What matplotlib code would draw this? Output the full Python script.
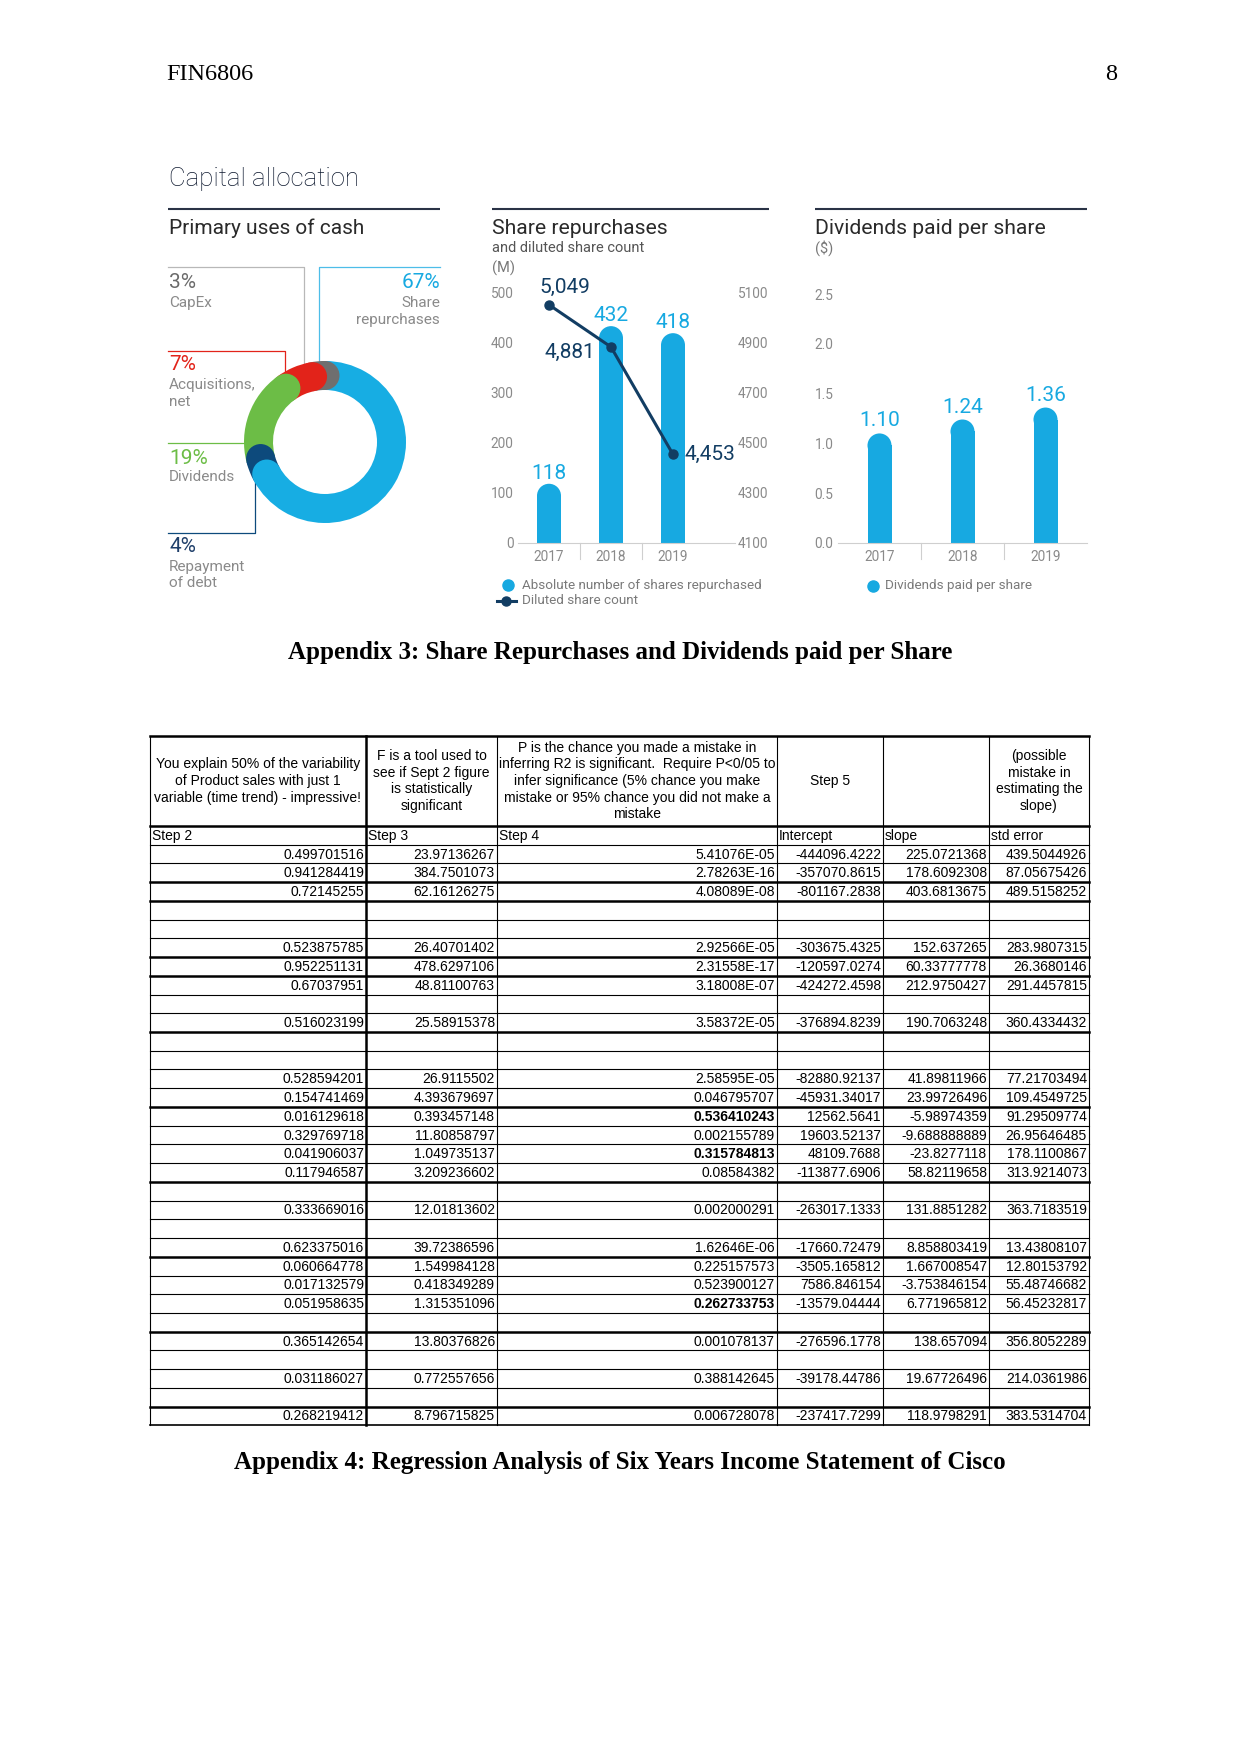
import numpy as np
import matplotlib
matplotlib.use('Agg')
import matplotlib.pyplot as plt
from matplotlib.patches import Ellipse, Circle

# ------------------------------------------------------------------ data
donut_labels = ['Share repurchases', 'Repayment of debt', 'Dividends', 'Acquisitions, net', 'CapEx']
donut_pct = [67, 4, 19, 7, 3]

years = ['2017', '2018', '2019']
shares_repurchased = [118, 432, 418]
diluted_share_count = [5049, 4881, 4453]
dividends_per_share = [1.10, 1.24, 1.36]

share_left_ticks = [0, 100, 200, 300, 400, 500]
share_right_ticks = [4100, 4300, 4500, 4700, 4900, 5100]
div_ticks = [0.0, 0.5, 1.0, 1.5, 2.0, 2.5]

table_headers = [
    "You explain 50% of the variability\nof Product sales with just 1\nvariable (time trend) - impressive!",
    "F is a tool used to\nsee if Sept 2 figure\nis statistically\nsignificant",
    "P is the chance you made a mistake in\ninferring R2 is significant.  Require P<0/05 to\ninfer significance (5% chance you make\nmistake or 95% chance you did not make a\nmistake",
    "Step 5",
    "",
    "(possible\nmistake in\nestimating the\nslope)",
]
step_labels = ['Step 2', 'Step 3', 'Step 4', 'Intercept', 'slope', 'std error']

r2_values = ['0.499701516', '0.941284419', '0.72145255', '', '', '0.523875785', '0.952251131',
             '0.67037951', '', '0.516023199', '', '', '0.528594201', '0.154741469', '0.016129618',
             '0.329769718', '0.041906037', '0.117946587', '', '0.333669016', '', '0.623375016',
             '0.060664778', '0.017132579', '0.051958635', '', '0.365142654', '', '0.031186027', '',
             '0.268219412']
f_values = ['23.97136267', '384.7501073', '62.16126275', '', '', '26.40701402', '478.6297106',
            '48.81100763', '', '25.58915378', '', '', '26.9115502', '4.393679697', '0.393457148',
            '11.80858797', '1.049735137', '3.209236602', '', '12.01813602', '', '39.72386596',
            '1.549984128', '0.418349289', '1.315351096', '', '13.80376826', '', '0.772557656', '',
            '8.796715825']
p_values = ['5.41076E-05', '2.78263E-16', '4.08089E-08', '', '', '2.92566E-05', '2.31558E-17',
            '3.18008E-07', '', '3.58372E-05', '', '', '2.58595E-05', '0.046795707', '0.536410243',
            '0.002155789', '0.315784813', '0.08584382', '', '0.002000291', '', '1.62646E-06',
            '0.225157573', '0.523900127', '0.262733753', '', '0.001078137', '', '0.388142645', '',
            '0.006728078']
intercepts = ['-444096.4222', '-357070.8615', '-801167.2838', '', '', '-303675.4325', '-120597.0274',
              '-424272.4598', '', '-376894.8239', '', '', '-82880.92137', '-45931.34017', '12562.5641',
              '19603.52137', '48109.7688', '-113877.6906', '', '-263017.1333', '', '-17660.72479',
              '-3505.165812', '7586.846154', '-13579.04444', '', '-276596.1778', '', '-39178.44786', '',
              '-237417.7299']
slopes = ['225.0721368', '178.6092308', '403.6813675', '', '', '152.637265', '60.33777778',
          '212.9750427', '', '190.7063248', '', '', '41.89811966', '23.99726496', '-5.98974359',
          '-9.688888889', '-23.8277118', '58.82119658', '', '131.8851282', '', '8.858803419',
          '1.667008547', '-3.753846154', '6.771965812', '', '138.657094', '', '19.67726496', '',
          '118.9798291']
std_errors = ['439.5044926', '87.05675426', '489.5158252', '', '', '283.9807315', '26.3680146',
              '291.4457815', '', '360.4334432', '', '', '77.21703494', '109.4549725', '91.29509774',
              '26.95646485', '178.1100867', '313.9214073', '', '363.7183519', '', '13.43808107',
              '12.80153792', '55.48746682', '56.45232817', '', '356.8052289', '', '214.0361986', '',
              '383.5314704']
p_bold = ['0.536410243', '0.315784813', '0.262733753']

# ------------------------------------------------------------------ style
W, H = 1241, 1754
UI = ['Roboto', 'DejaVu Sans']
SANS = ['Liberation Sans', 'DejaVu Sans']
SERIF = ['Liberation Serif', 'DejaVu Serif']
BLUE = '#17a9e1'
NAVY = '#123d63'
DONUT_COLORS = ['#17ade3', '#0d4a7c', '#6cbd46', '#e2231a', '#6f6f6f']
GREY_TXT = '#8a8a8a'
plt.rcParams['font.family'] = UI

fig = plt.figure(figsize=(W / 100, H / 100), dpi=100)


def px_axes(x0, y0, x1, y1):
    return fig.add_axes([x0 / W, 1 - y1 / H, (x1 - x0) / W, (y1 - y0) / H])


page = px_axes(0, 0, W, H)
page.set_xlim(0, W)
page.set_ylim(H, 0)
page.axis('off')


def T(x, y, s, size, color='black', ha='left', va='center', family=UI, weight='normal', **kw):
    page.text(x, y, s, fontsize=size, color=color, ha=ha, va=va, family=family,
              fontweight=weight, **kw)


# page header
T(166, 75, 'FIN6806', 17.5, family=SERIF)
T(1117, 75, '8', 17.5, ha='right', family=SERIF)

# section titles + rules
T(169, 179, 'Capital allocation', 18.5, color='#0f1a30', weight='light')
for x0, x1 in [(168, 440), (492, 769), (815, 1087)]:
    page.plot([x0, x1], [209, 209], color='#2a3346', lw=1.5, solid_capstyle='butt')
T(169, 228, 'Primary uses of cash', 15, color='#2a2a2a')
T(492, 228, 'Share repurchases', 15.2, color='#2a2a2a')
T(492, 248, 'and diluted share count', 10.5, color='#555555')
T(492, 268, '(M)', 10.5, color='#777777')
T(815, 228, 'Dividends paid per share', 15.2, color='#2a2a2a')
T(815, 248, '($)', 10.5, color='#777777')

# ------------------------------------------------------------------ donut
page.plot([168, 304, 304], [267, 267, 365], color='#b8b8b8', lw=0.9)
page.plot([319, 319, 440], [365, 267, 267], color='#4dbde8', lw=0.9)
page.plot([168, 285, 285], [351, 351, 376], color=DONUT_COLORS[3], lw=0.9)
page.plot([168, 250], [443, 443], color=DONUT_COLORS[2], lw=0.9)
page.plot([168, 255, 255], [533, 533, 480], color=DONUT_COLORS[1], lw=0.9)

T(169, 283, f'{donut_pct[4]}%', 15, color='#6b6b6b')
T(169, 303, 'CapEx', 11, color=GREY_TXT)
T(440, 283, f'{donut_pct[0]}%', 15, color=BLUE, ha='right')
T(440, 303, 'Share', 11, color=GREY_TXT, ha='right')
T(440, 320, 'repurchases', 11, color=GREY_TXT, ha='right')
T(169, 365, f'{donut_pct[3]}%', 15, color=DONUT_COLORS[3])
T(169, 385, 'Acquisitions,', 11, color=GREY_TXT)
T(169, 402, 'net', 11, color=GREY_TXT)
T(169, 458, f'{donut_pct[2]}%', 15, color='#6cbd46')
T(169, 477, 'Dividends', 11, color=GREY_TXT)
T(169, 547, f'{donut_pct[1]}%', 15, color='#1f3f6a')
T(169, 567, 'Repayment', 11, color=GREY_TXT)
T(169, 583, 'of debt', 11, color=GREY_TXT)

cx, cy, ro, ri = 325, 442, 81, 52
dax = px_axes(cx - 100, cy - 100, cx + 100, cy + 100)
ring = (ro - ri) / ro
wedges, _ = dax.pie(donut_pct, colors=DONUT_COLORS, startangle=90, counterclock=False,
                    radius=1.0, wedgeprops=dict(width=ring, linewidth=0))
lim = 100 / ro
dax.set_xlim(-lim, lim)
dax.set_ylim(-lim, lim)
dax.set_aspect('equal')
rm = 1 - ring / 2
for z, (wdg, col) in enumerate(reversed(list(zip(wedges, DONUT_COLORS)))):
    a = np.deg2rad(wdg.theta1)
    dax.add_patch(Circle((rm * np.cos(a), rm * np.sin(a)), ring / 2, facecolor=col,
                         edgecolor='none', zorder=3 + z))

# ------------------------------------------------------------------ share repurchases chart
xpos = np.arange(len(years))
sax = px_axes(518, 292, 735, 543)
sax.set_facecolor('none')
sax.set_xlim(-0.5, 3.0)
sax.set_ylim(0, 500)
cap = 12 * 500 / 251
bw = 24 / 62
sax.bar(xpos, [v - cap for v in shares_repurchased], width=bw, color=BLUE, linewidth=0, zorder=2)
for xi, v in zip(xpos, shares_repurchased):
    sax.add_patch(Ellipse((xi, v - cap), bw, 2 * cap, facecolor=BLUE, edgecolor='none', zorder=2))
    sax.annotate(f'{v}', (xi, v), xytext=(0, 3.5), textcoords='offset points', ha='center',
                 va='baseline', fontsize=15, color=BLUE)
for s in ['left', 'right', 'top']:
    sax.spines[s].set_visible(False)
sax.spines['bottom'].set_color('#cfcfcf')
sax.spines['bottom'].set_linewidth(0.8)
sax.set_yticks(share_left_ticks)
sax.set_xticks(xpos)
sax.set_xticklabels(years)
sax.tick_params(axis='y', length=0, pad=3.3, labelsize=9.8, labelcolor=GREY_TXT)
sax.tick_params(axis='x', length=0, pad=5, labelsize=9.8, labelcolor=GREY_TXT)
for b in [0.5, 1.5]:
    sax.axvline(b, ymin=-16 / 251, ymax=0, color='#cfcfcf', lw=0.8, clip_on=False)

tax = sax.twinx()
tax.set_ylim(4100, 5100)
tax.set_yticks(share_right_ticks)
tax.tick_params(axis='y', length=0, pad=2.2, labelsize=9.8, labelcolor=GREY_TXT)
for s in tax.spines.values():
    s.set_visible(False)
tax.plot(xpos, diluted_share_count, color=NAVY, lw=2.2, marker='o', ms=6.5, zorder=3)
line_label_style = [((11.5, 12.2), 'center'), ((-11.5, -3.6), 'right'), ((8.6, 0), 'left')]
for xi, v, (off, ha) in zip(xpos, diluted_share_count, line_label_style):
    tax.annotate(f'{v:,}', (xi, v), xytext=off, textcoords='offset points', ha=ha, va='center',
                 fontsize=15, color=NAVY)

page.plot([508], [585], 'o', ms=8, color=BLUE)
page.plot([497, 516], [601, 601], color=NAVY, lw=2.2)
page.plot([506], [601], 'o', ms=6.5, color=NAVY)
T(522, 585, 'Absolute number of shares repurchased', 9.7, color='#7a7a7a')
T(522, 601, 'Diluted share count', 9.7, color='#7a7a7a')

# ------------------------------------------------------------------ dividends chart
vax = px_axes(838, 294, 1087, 543)
vax.set_facecolor('none')
vax.set_xlim(-0.5, 2.5)
vax.set_ylim(0, 2.5)
cap = 12 * 2.5 / 249
bw = 24 / 83
vax.bar(xpos, [v - cap for v in dividends_per_share], width=bw, color=BLUE, linewidth=0, zorder=2)
for xi, v in zip(xpos, dividends_per_share):
    vax.add_patch(Ellipse((xi, v - cap), bw, 2 * cap, facecolor=BLUE, edgecolor='none', zorder=2))
    vax.annotate(f'{v:.2f}', (xi, v), xytext=(0, 5), textcoords='offset points', ha='center',
                 va='baseline', fontsize=15, color=BLUE)
for s in ['left', 'right', 'top']:
    vax.spines[s].set_visible(False)
vax.spines['bottom'].set_color('#cfcfcf')
vax.spines['bottom'].set_linewidth(0.8)
vax.set_yticks(div_ticks)
vax.set_yticklabels([f'{t:.1f}' for t in div_ticks])
vax.set_xticks(xpos)
vax.set_xticklabels(years)
vax.tick_params(axis='y', length=0, pad=3.3, labelsize=9.8, labelcolor=GREY_TXT)
vax.tick_params(axis='x', length=0, pad=5, labelsize=9.8, labelcolor=GREY_TXT)
for b in [0.5, 1.5]:
    vax.axvline(b, ymin=-16 / 249, ymax=0, color='#cfcfcf', lw=0.8, clip_on=False)

page.plot([873], [586], 'o', ms=8, color=BLUE)
T(885, 586, 'Dividends paid per share', 9.7, color='#7a7a7a')

# captions
T(620, 652, 'Appendix 3: Share Repurchases and Dividends paid per Share', 18, ha='center',
  family=SERIF, weight='bold')
T(620, 1462, 'Appendix 4: Regression Analysis of Six Years Income Statement of Cisco', 18,
  ha='center', family=SERIF, weight='bold')

# ------------------------------------------------------------------ table
col_edges = [150, 366, 497, 777, 883, 989, 1089]
top, hbot, rh = 736, 826, 18.73
columns = [r2_values, f_values, p_values, intercepts, slopes, std_errors]
nrows = 1 + len(r2_values)
bottom = hbot + nrows * rh
thick_after = [0, 3, 4, 7, 8, 11, 15, 19, 23, 27, 31]
TH, TN = 1.8, 0.8

page.plot([col_edges[0], col_edges[-1]], [top, top], color='black', lw=TH, solid_capstyle='projecting')
for k in range(nrows + 1):
    y = hbot + k * rh
    lw = TH if k in thick_after else (1.2 if k == nrows else TN)
    page.plot([col_edges[0], col_edges[-1]], [y, y], color='black', lw=lw, solid_capstyle='projecting')
for i, x in enumerate(col_edges):
    page.plot([x, x], [top, bottom], color='black', lw=TH if i == 1 else TN)

for j, htxt in enumerate(table_headers):
    xc = (col_edges[j] + col_edges[j + 1]) / 2
    page.text(xc, (top + hbot) / 2, htxt, fontsize=10, family=SANS, ha='center', va='center',
              linespacing=1.23, multialignment='center')
for j, lab in enumerate(step_labels):
    page.text(col_edges[j] + 2, hbot + 0.5 * rh + 4.5, lab, fontsize=10, family=SANS, ha='left',
              va='baseline')
for j, col in enumerate(columns):
    for i, val in enumerate(col):
        if not val:
            continue
        yc = hbot + (i + 1.5) * rh
        page.text(col_edges[j + 1] - 2, yc + 4.5, val, fontsize=10, family=SANS, ha='right',
                  va='baseline', fontweight='bold' if (j == 2 and val in p_bold) else 'normal')

fig.savefig('out.png', dpi=100)
